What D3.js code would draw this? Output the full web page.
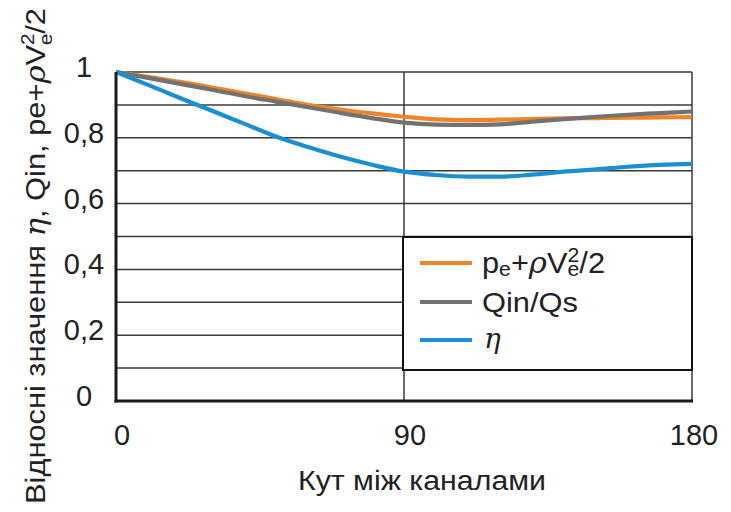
<!DOCTYPE html>
<html><head><meta charset="utf-8">
<script src="https://cdn.jsdelivr.net/npm/d3@7"></script>
<style>
html,body{margin:0;padding:0;background:#fff;}
svg{display:block;font-family:"Liberation Sans",Arial,sans-serif;}
</style></head>
<body><svg id="c" width="731" height="512"></svg>
<script>
const angles = [0,10,20,30,40,50,60,70,80,90,100,110,120,130,140,150,160,170,180];
const pressure = [1.000,0.985,0.970,0.953,0.935,0.918,0.900,0.886,0.874,0.864,0.856,0.854,0.855,0.857,0.859,0.860,0.861,0.862,0.863];
const flow = [1.000,0.982,0.964,0.946,0.927,0.910,0.893,0.876,0.860,0.846,0.840,0.839,0.841,0.849,0.857,0.864,0.870,0.875,0.880];
const eta = [1.000,0.961,0.921,0.882,0.843,0.804,0.772,0.743,0.718,0.697,0.687,0.682,0.682,0.688,0.697,0.704,0.712,0.718,0.721];
const xTicks = [0,90,180];
const xTickLabels = ["0","90","180"];
const yTicks = [0,0.2,0.4,0.6,0.8,1];
const yTickLabels = ["0","0,2","0,4","0,6","0,8","1"];
const gridValues = [0.1,0.2,0.3,0.4,0.5,0.6,0.7,0.8,0.9,1.0];
const seriesNames = ["pressure","flow","eta"];
const colors = {pressure:"#EF8526", flow:"#727272", eta:"#1A8FD3"};

const svg = d3.select("#c");
const x = d3.scaleLinear().domain([0,180]).range([116,692]);
const y = d3.scaleLinear().domain([0,1]).range([401,72]);

// horizontal gridlines
svg.append("g").selectAll("line").data(gridValues).join("line")
  .attr("x1", x(0)).attr("x2", x(180))
  .attr("y1", d=>y(d)).attr("y2", d=>y(d))
  .attr("stroke","#3a3a3a").attr("stroke-width",1.5);
// vertical gridlines
svg.append("g").selectAll("line").data([90,180]).join("line")
  .attr("x1", d=>x(d)).attr("x2", d=>x(d))
  .attr("y1", y(1)).attr("y2", y(0))
  .attr("stroke","#3a3a3a").attr("stroke-width",1.5);

// curves
const data = {pressure, flow, eta};
const line = d3.line().x((d,i)=>x(angles[i])).y(d=>y(d)).curve(d3.curveMonotoneX);
seriesNames.forEach(k=>{
  svg.append("path").datum(data[k]).attr("d", line)
    .attr("fill","none").attr("stroke",colors[k]).attr("stroke-width",4.2)
    .attr("stroke-linejoin","round");
});

// axes (thick)
svg.append("line").attr("x1",x(0)).attr("x2",x(0)).attr("y1",y(1)).attr("y2",y(0)+1.5)
  .attr("stroke","#1a1a1a").attr("stroke-width",3);
svg.append("line").attr("x1",x(0)-1.5).attr("x2",x(180)+1).attr("y1",y(0)).attr("y2",y(0))
  .attr("stroke","#1a1a1a").attr("stroke-width",3);

// tick labels
svg.append("g").selectAll("text").data(yTicks).join("text")
  .attr("x",84).attr("y",d=>y(d)+5).attr("text-anchor","middle")
  .attr("font-size",29).attr("fill","#222").text((d,i)=>yTickLabels[i]);
svg.append("g").selectAll("text").data(xTicks).join("text")
  .attr("x",d=>Math.min(x(d)+6,694)).attr("y",445).attr("text-anchor","middle")
  .attr("font-size",29).attr("fill","#222").text((d,i)=>xTickLabels[i]);

// x title
svg.append("text").attr("x",422).attr("y",490).attr("text-anchor","middle")
  .attr("font-size",27).attr("fill","#222")
  .attr("textLength",248).attr("lengthAdjust","spacingAndGlyphs")
  .text("Кут між каналами");

// y title
const yt = svg.append("text").attr("transform","translate(45,256) rotate(-90)")
  .attr("text-anchor","middle").attr("font-size",28).attr("fill","#222")
  .attr("textLength",496).attr("lengthAdjust","spacingAndGlyphs");
yt.append("tspan").text("Відносні значення ");
yt.append("tspan").attr("font-family","'DejaVu Serif',serif").attr("font-style","italic").text("η");
yt.append("tspan").text(", Qin, pe+");
yt.append("tspan").attr("font-family","'DejaVu Serif',serif").attr("font-style","italic").text("ρ");
yt.append("tspan").text("V");
yt.append("tspan").attr("font-size",19).attr("dy",-11).text("2");
yt.append("tspan").attr("font-size",19).attr("dx",-11).attr("dy",18).text("e");
yt.append("tspan").attr("dy",-7).text("/2");

// legend
const lg = svg.append("g");
lg.append("rect").attr("x",403).attr("y",237).attr("width",289).attr("height",133)
  .attr("fill","#fff").attr("stroke","#111").attr("stroke-width",2);
const legY = [263,302,340];
seriesNames.forEach((k,i)=>{
  lg.append("line").attr("x1",420).attr("x2",472).attr("y1",legY[i]).attr("y2",legY[i])
    .attr("stroke",colors[k]).attr("stroke-width",4.2);
});
const t1 = lg.append("text").attr("x",482).attr("y",legY[0]+10).attr("font-size",29).attr("fill","#222")
  .attr("textLength",123).attr("lengthAdjust","spacingAndGlyphs");
t1.append("tspan").text("p");
t1.append("tspan").attr("font-size",20).attr("dy",3).text("e");
t1.append("tspan").attr("dy",-3).text("+");
t1.append("tspan").attr("font-family","'DejaVu Serif',serif").attr("font-style","italic").text("ρ");
t1.append("tspan").text("V");
t1.append("tspan").attr("font-size",20).attr("dy",-11).text("2");
t1.append("tspan").attr("font-size",20).attr("dx",-11).attr("dy",14).text("e");
t1.append("tspan").attr("dy",-3).text("/2");
lg.append("text").attr("x",482).attr("y",legY[1]+10).attr("font-size",28).attr("fill","#222")
  .attr("textLength",96).attr("lengthAdjust","spacingAndGlyphs").text("Qin/Qs");
lg.append("text").attr("x",484).attr("y",legY[2]+8).attr("font-size",28).attr("fill","#222")
  .attr("font-family","'DejaVu Serif',serif").attr("font-style","italic").text("η");
</script></body></html>
